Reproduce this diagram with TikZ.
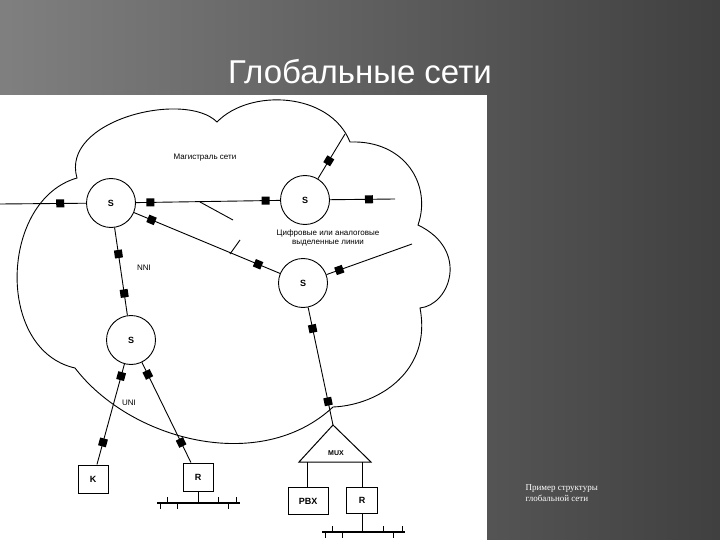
\documentclass[tikz,border=0pt]{standalone}
\usepackage{fontspec}
\setmainfont{Liberation Serif}
\newfontfamily\sansf{Liberation Sans}
\begin{document}
\begin{tikzpicture}[x=1pt,y=-1pt,
 sw/.style={circle,draw,line width=0.9pt,minimum size=49pt,inner sep=0pt,font=\sansf\bfseries\small},
 bx/.style={draw,line width=1pt,minimum width=30pt,minimum height=28pt,inner sep=0pt,font=\sansf\bfseries\small},
 sq/.style={fill=black,minimum size=8pt,inner sep=0pt,sloped},
 ln/.style={line width=0.9pt},
 lb/.style={font=\sansf\footnotesize}]
\useasboundingbox (0,0) rectangle (720,540);
\shade[left color=black!50,right color=black!75] (0,0) rectangle (720,540);
\fill[white] (0,95) rectangle (487,540);
\node[text=white,font=\sansf\fontsize{33}{36}\selectfont] (title) at (360,72) {Глобальные сети};
\node[text=white,align=left,anchor=west,font=\small] (cap) at (522,493) {Пример структуры\\глобальной сети};
% cloud
\draw[line width=0.9pt] (77,178) .. controls (60,120) and (185,90) .. (217,122)
  .. controls (250,88) and (330,92) .. (350,142)
  .. controls (405,140) and (432,185) .. (418,225)
  .. controls (470,250) and (450,305) .. (420,308)
  .. controls (432,370) and (380,405) .. (333,407)
  .. controls (260,475) and (130,440) .. (75,368)
  .. controls (-5,350) and (0,200) .. cycle;
% switches
\node[sw] (s1) at (111,203) {S};
\node[sw] (s2) at (305,200) {S};
\node[sw] (s3) at (303,283) {S};
\node[sw] (s4) at (131,340) {S};
\coordinate (bl) at (0,204);
\coordinate (br) at (395,199);
\coordinate (ur) at (345,134);
\coordinate (rr) at (412,244);
\draw[ln] (bl) -- node[sq,pos=0.7]{} (s1);
\draw[ln] (s1) -- node[sq,pos=0.1]{} node[sq,pos=0.9]{} (s2);
\draw[ln] (s2) -- node[sq,pos=0.6]{} (br);
\draw[ln] (s2) -- node[sq,pos=0.4]{} (ur);
\draw[ln] (s1) -- node[sq,pos=0.12]{} node[sq,pos=0.85]{} (s3);
\draw[ln] (s3) -- node[sq,pos=0.15]{} (rr);
\draw[ln] (s1) -- node[sq,pos=0.3]{} node[sq,pos=0.75]{} (s4);
% labels
\node[lb] (mag) at (205,158) {Магистраль сети};
\node[lb] (nni) at (144,268) {NNI};
\node[lb,align=center,inner sep=1pt] (cif) at (328,238) {Цифровые или аналоговые\\выделенные линии};
\coordinate (p1) at (200,202); \coordinate (p2) at (233,220);
\coordinate (p3) at (230,254); \coordinate (p4) at (240,240);
\draw[ln] (p1) -- (p2); \draw[ln] (p3) -- (p4);
% access
\node[bx] (k) at (93,479) {K};
\node[bx] (r1) at (198,477) {R};
\draw[ln] (s4) -- node[sq,pos=0.12]{} node[sq,pos=0.78]{} (k);
\draw[ln] (s4) -- node[sq,pos=0.12]{} node[sq,pos=0.8]{} (r1);
\node[lb] (uni) at (129,403) {UNI};
\coordinate (mux) at (333,425);
\coordinate (mbl) at (299,462); \coordinate (mbr) at (371,462);
\draw[line width=1pt] (mux) -- (mbr) -- (mbl) -- cycle;
\node[font=\sansf\bfseries\scriptsize] (muxt) at (336,453) {MUX};
\draw[ln] (s3) -- node[sq,pos=0.18]{} node[sq,pos=0.8]{} (mux);
\node[bx,minimum width=40pt,minimum height=27pt] (pbx) at (308,501) {PBX};
\node[bx,minimum width=31pt,minimum height=26pt] (r2) at (362,500) {R};
\coordinate (m1) at (307,462); \coordinate (m2) at (362,462);
\draw[ln] (m1) -- (pbx.north -| m1);
\draw[ln] (m2) -- (r2.north);
% buses
\coordinate (b1l) at (157,503); \coordinate (b1r) at (240,503);
\draw[line width=1.2pt] (b1l) -- (b1r); \draw[ln] (r1.south) -- (r1.south |- b1l);
\foreach \x in {167,218,236} \draw[ln] (\x,503) -- (\x,497);
\foreach \x in {160,177,228} \draw[ln] (\x,503) -- (\x,509);
\coordinate (b2l) at (322,532); \coordinate (b2r) at (405,532);
\draw[line width=1.2pt] (b2l) -- (b2r); \draw[ln] (r2.south) -- (r2.south |- b2l);
\foreach \x in {332,383,402} \draw[ln] (\x,532) -- (\x,526);
\foreach \x in {325,342,393} \draw[ln] (\x,532) -- (\x,538);
\end{tikzpicture}
\end{document}
